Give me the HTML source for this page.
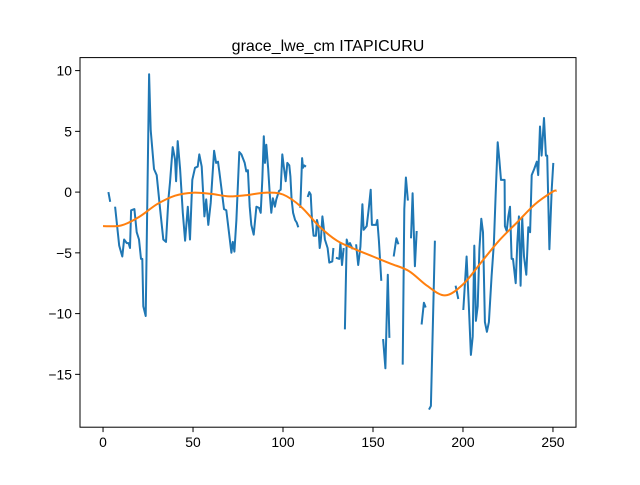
<!DOCTYPE html>
<html><head><meta charset="utf-8"><style>
body{margin:0;background:#fff;}
svg text{font-family:"Liberation Sans","DejaVu Sans",sans-serif;}
</style></head><body>
<svg id="chart" width="640" height="480" xmlns="http://www.w3.org/2000/svg">
<rect width="640" height="480" fill="#fff"/>
<text x="328" y="51" font-size="16" text-anchor="middle">grace_lwe_cm ITAPICURU</text>
<g id="plot"></g>
<rect x="80" y="57.6" width="496" height="369.6" fill="none" stroke="#000" stroke-width="1"/>
<g id="ticks"></g>
</svg>
<script>
const rawXs = [3,4,null,6.7,9,10.7,11.7,13.2,14.2,15,15.6,17.4,18.7,20,21.1,21.8,22.4,23.7,25.6,26.5,28.3,29.8,31.7,33.5,35,36.3,37.2,38.7,40,40.6,41.5,42.8,44.3,45.6,47.1,48.3,49.6,51.1,52.6,53.5,54.8,56.3,57.3,58.5,59.8,61.7,62.8,63.9,64.6,65.9,67.2,68.5,71.3,72.1,73,74.1,75.7,76.9,78.7,79.6,80.5,81.5,82.4,83.7,85.2,86.7,87.6,88.5,89.3,90,90.7,91.8,92.6,93.5,94.4,95.5,96.3,97.8,98.7,99.6,100.6,101.5,102.4,103.5,104.1,104.8,105.6,106.7,107.6,108.5,null,109.6,110.6,111.1,111.7,112.8,null,113.7,114.6,115.4,116.1,117,118.3,118.9,119.6,120.4,121,121.9,122.4,123.3,124.8,125.7,127.4,128,null,129.4,131.3,131.9,132.8,133.7,null,134.4,135.4,136.3,137.2,138.7,null,140.6,141.8,143,144.1,144.8,146.5,147.6,148.7,149.4,151.7,152.4,153.3,154.6,null,155.6,156.9,158.2,159.1,null,161.5,163,164.1,null,166.5,167.4,168.3,169.4,null,171.1,172,173.3,174.3,null,177,178.3,179.3,null,181.1,182.2,184.4,null,195.9,197.4,null,200.2,202,203.2,204.4,205.4,206.3,207.2,208.2,209.1,210.2,211.1,212.2,213.3,214.4,215.9,217.2,218.2,219.3,220.2,221.1,223.1,223.3,224.3,225.2,226.1,227,227.8,229.3,230.2,231.1,232,232.9,233.9,235.2,236.3,237.3,238.2,239.6,241,241.8,242.8,243.7,245,246.1,246.8,248,249.3,250.2];
const rawYs = [0,-0.8,null,-1.2,-4.4,-5.3,-3.9,-4.2,-4.2,-4.6,-1.5,-1.4,-3.3,-3.9,-5.5,-5.5,-9.4,-10.2,9.7,5.1,1.9,1.4,-1.4,-3.9,-4.1,-0.6,0.8,3.7,2.7,0.9,4.2,1.9,-1.7,-4.0,-1.2,-3.9,1.0,2.0,2.1,3.1,2.1,-2.0,-0.6,-2.7,-0.9,3.4,2.4,2.5,1.7,0.2,-1.4,-1.5,-5.0,-4.1,-4.9,-2.3,3.3,3.1,2.4,1.7,1.8,-1.2,-2.7,-3.5,-1.2,-1.3,-1.7,1.0,4.6,2.4,3.9,1.9,-0.1,-1.7,-0.5,-1.2,-0.6,0.1,0.2,3.1,1.9,0.9,2.4,2.2,1.3,-0.6,-1.7,-2.3,-2.5,-2.9,null,-1.3,2.8,2.0,2.2,2.1,null,-0.4,0,-0.2,-2.3,-3.6,-3.6,-2.3,-2.8,-4.6,-4.0,-2.0,-2.6,-3.9,-4.6,-5.8,-5.7,-4.6,null,-5.4,-5.5,-4.2,-6.0,-4.6,null,-11.3,-3.9,-4.4,-4.2,-4.7,null,-4.3,-6.0,-4.5,-1.0,-3.1,-2.8,-1.4,0.2,-2.7,-2.7,-2.3,-4.0,-7.3,null,-12.1,-14.5,-6.8,-12.0,null,-5.3,-3.8,-4.3,null,-14.2,-1.4,1.2,-0.7,null,-3.8,-0.1,-6.1,-3.2,null,-10.9,-9.1,-9.5,null,-17.9,-17.6,-4.0,null,-7.7,-8.8,null,-9.7,-5.3,-9.1,-13.4,-11.9,-4.4,-10.6,-9.4,-4.7,-2.2,-3.3,-10.7,-11.5,-10.7,-6.9,-4.2,-0.1,4.1,2.7,1.0,1.0,-2.8,-3.2,-2.0,-1.2,-5.5,-5.5,-7.5,-4.2,-2.0,-7.7,-2.1,-5.3,-6.8,-2.9,-3.3,1.4,1.9,2.5,1.4,5.4,3.0,6.1,3.0,3.0,-4.7,0.2,2.4];
const trendXs = [0,10,20,30,40,50,60,70,80,90,100,110,120,130,140,150,160,170,180,190,200,210,220,230,240,250,252];
const trendYs = [-2.8,-2.75,-2.05,-1.0,-0.3,-0.05,-0.15,-0.35,-0.25,-0.05,-0.2,-1.2,-2.8,-4.0,-4.7,-5.3,-5.9,-6.5,-7.7,-8.5,-7.6,-5.8,-4.0,-2.5,-1.0,0.05,0.1];
const xTicks = [0,50,100,150,200,250];
const yTicks = [-15,-10,-5,0,5,10];

const X0=80,X1=576,Y0=427.2,Y1=57.6,XMIN=-12.8,XMAX=262.8,YMIN=-19.35,YMAX=11.07;
const sx = v => X0 + (v-XMIN)/(XMAX-XMIN)*(X1-X0);
const sy = v => Y0 - (v-YMIN)/(YMAX-YMIN)*(Y0-Y1);
const NS="http://www.w3.org/2000/svg";
const plot=document.getElementById('plot');
const ticks=document.getElementById('ticks');

let d="",pen=false;
for(let i=0;i<rawXs.length;i++){
  if(rawYs[i]===null||rawXs[i]===null){pen=false;continue;}
  d+=(pen?"L":"M")+sx(rawXs[i]).toFixed(1)+","+sy(rawYs[i]).toFixed(1);
  pen=true;
}
const p1=document.createElementNS(NS,'path');
p1.setAttribute('d',d);p1.setAttribute('fill','none');p1.setAttribute('stroke','#1f77b4');
p1.setAttribute('stroke-width','2');p1.setAttribute('stroke-linejoin','round');


plot.appendChild(p1);

const pts=trendXs.map((x,i)=>[sx(x),sy(trendYs[i])]);
let d2="M"+pts[0][0]+","+pts[0][1];
for(let i=0;i<pts.length-1;i++){
  const p0=pts[Math.max(0,i-1)],a=pts[i],b=pts[i+1],p3=pts[Math.min(pts.length-1,i+2)];
  const c1=[a[0]+(b[0]-p0[0])/6,a[1]+(b[1]-p0[1])/6],c2=[b[0]-(p3[0]-a[0])/6,b[1]-(p3[1]-a[1])/6];
  d2+="C"+c1[0].toFixed(1)+","+c1[1].toFixed(1)+" "+c2[0].toFixed(1)+","+c2[1].toFixed(1)+" "+b[0].toFixed(1)+","+b[1].toFixed(1);
}
const p2=document.createElementNS(NS,'path');
p2.setAttribute('d',d2);p2.setAttribute('fill','none');p2.setAttribute('stroke','#ff7f0e');p2.setAttribute('stroke-width','2');


plot.appendChild(p2);

xTicks.forEach(v=>{
  const l=document.createElementNS(NS,'line');
  l.setAttribute('x1',sx(v));l.setAttribute('x2',sx(v));l.setAttribute('y1',Y0);l.setAttribute('y2',Y0+4.9);l.setAttribute('stroke','#000');
  
  
  ticks.appendChild(l);
  const t=document.createElementNS(NS,'text');
  t.setAttribute('x',sx(v));t.setAttribute('y',Y0+20);t.setAttribute('font-size','13.9');t.setAttribute('text-anchor','middle');
  t.textContent=v;
  
  
  ticks.appendChild(t);
});
yTicks.forEach(v=>{
  const l=document.createElementNS(NS,'line');
  l.setAttribute('x1',X0-4.9);l.setAttribute('x2',X0);l.setAttribute('y1',sy(v));l.setAttribute('y2',sy(v));l.setAttribute('stroke','#000');
  
  
  ticks.appendChild(l);
  const t=document.createElementNS(NS,'text');
  t.setAttribute('x',X0-8);t.setAttribute('y',sy(v)+5);t.setAttribute('font-size','13.9');t.setAttribute('text-anchor','end');
  t.textContent=v<0?'\u2212'+Math.abs(v):v;
  
  
  ticks.appendChild(t);
});
</script>
</body></html>
